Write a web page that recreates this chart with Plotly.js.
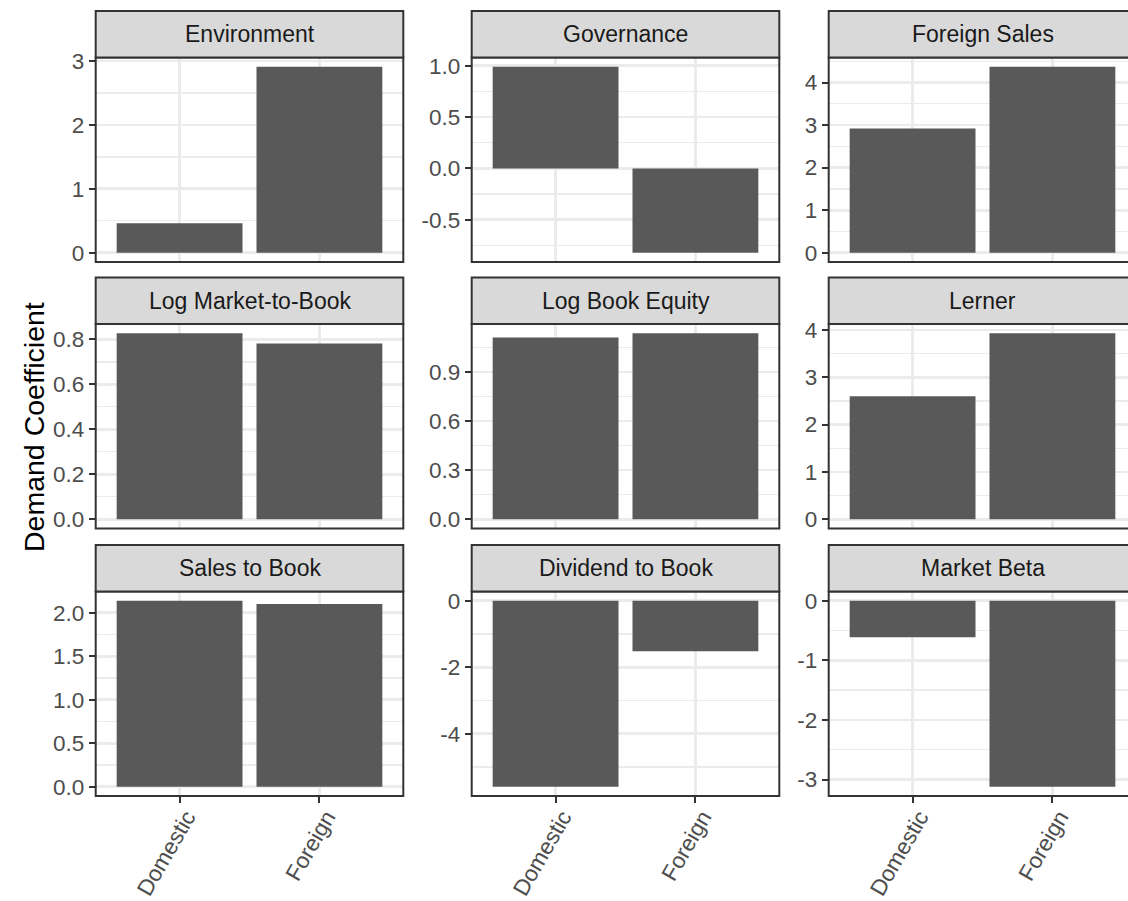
<!DOCTYPE html>
<html>
<head>
<meta charset="utf-8">
<script src="https://cdn.plot.ly/plotly-3.0.1.min.js"></script>
<style>
html, body { margin: 0; padding: 0; overflow: hidden; background: #ffffff; }
#chart { width: 1140px; height: 901px; }
</style>
</head>
<body>
<div id="chart"></div>
<script>
// ---- data ----
const categories = ["Domestic", "Foreign"];
const panelTitles = ["Environment", "Governance", "Foreign Sales",
                     "Log Market-to-Book", "Log Book Equity", "Lerner",
                     "Sales to Book", "Dividend to Book", "Market Beta"];
const environment     = [0.46, 2.91];
const governance      = [0.99, -0.82];
const foreignSales    = [2.92, 4.37];
const logMarketToBook = [0.827, 0.782];
const logBookEquity   = [1.111, 1.136];
const lerner          = [2.60, 3.93];
const salesToBook     = [2.137, 2.10];
const dividendToBook  = [-5.59, -1.52];
const marketBeta      = [-0.61, -3.12];

const tickValsEnvironment = [0, 1, 2, 3];
const tickTextEnvironment = ["0", "1", "2", "3"];
const tickValsGovernance  = [-0.5, 0, 0.5, 1];
const tickTextGovernance  = ["-0.5", "0.0", "0.5", "1.0"];
const tickValsForeignSales = [0, 1, 2, 3, 4];
const tickTextForeignSales = ["0", "1", "2", "3", "4"];
const tickValsLogMtB = [0, 0.2, 0.4, 0.6, 0.8];
const tickTextLogMtB = ["0.0", "0.2", "0.4", "0.6", "0.8"];
const tickValsLogBE  = [0, 0.3, 0.6, 0.9];
const tickTextLogBE  = ["0.0", "0.3", "0.6", "0.9"];
const tickValsLerner = [0, 1, 2, 3, 4];
const tickTextLerner = ["0", "1", "2", "3", "4"];
const tickValsSalesToBook = [0, 0.5, 1, 1.5, 2];
const tickTextSalesToBook = ["0.0", "0.5", "1.0", "1.5", "2.0"];
const tickValsDividend = [-4, -2, 0];
const tickTextDividend = ["-4", "-2", "0"];
const tickValsBeta = [-3, -2, -1, 0];
const tickTextBeta = ["-3", "-2", "-1", "0"];

const panelValues = [environment, governance, foreignSales,
                     logMarketToBook, logBookEquity, lerner,
                     salesToBook, dividendToBook, marketBeta];
const panelTickVals = [tickValsEnvironment, tickValsGovernance, tickValsForeignSales,
                       tickValsLogMtB, tickValsLogBE, tickValsLerner,
                       tickValsSalesToBook, tickValsDividend, tickValsBeta];
const panelTickText = [tickTextEnvironment, tickTextGovernance, tickTextForeignSales,
                       tickTextLogMtB, tickTextLogBE, tickTextLerner,
                       tickTextSalesToBook, tickTextDividend, tickTextBeta];

// ---- layout geometry (pixels) ----
const W = 1140, H = 901;
const colX = [[95.7, 403.3], [471.7, 779.3], [828.7, 1136.3]];
const rowStripTop = [11, 277.5, 545];
const rowPlot = [[57.5, 262], [324, 528.5], [591.5, 796]];

const FONT = "Liberation Sans, Arial, sans-serif";
const BORDER = "#333333";
const GRID = "#EBEBEB";

const traces = [];
const layout = {
  width: W, height: H,
  margin: {l: 0, r: 0, t: 0, b: 0},
  paper_bgcolor: "#ffffff",
  plot_bgcolor: "#ffffff",
  showlegend: false,
  font: {family: FONT, size: 22, color: "#4D4D4D"},
  shapes: [],
  annotations: []
};

function minorVals(ticks) {
  const step = ticks[1] - ticks[0];
  const out = [];
  for (let i = -1; i < ticks.length; i++) {
    out.push(ticks[0] + (i + 0.5) * step);
  }
  return out;
}

for (let i = 0; i < 9; i++) {
  const r = Math.floor(i / 3), c = i % 3;
  const sfx = i === 0 ? "" : String(i + 1);
  const vals = panelValues[i];
  traces.push({
    type: "bar",
    x: categories,
    y: vals,
    width: 0.9,
    marker: {color: "#595959", line: {width: 0}},
    xaxis: "x" + sfx,
    yaxis: "y" + sfx,
    hoverinfo: "skip"
  });
  const lo = Math.min(0, ...vals), hi = Math.max(0, ...vals);
  const pad = 0.05 * (hi - lo);
  const xd = [colX[c][0] / W, colX[c][1] / W];
  const yd = [1 - rowPlot[r][1] / H, 1 - rowPlot[r][0] / H];
  const bottomRow = r === 2;
  layout["xaxis" + sfx] = {
    domain: xd,
    anchor: "y" + sfx,
    type: "category",
    categoryorder: "array",
    categoryarray: categories,
    range: [-0.6, 1.6],
    showgrid: true,
    gridcolor: GRID,
    gridwidth: 2.7,
    zeroline: false,
    showline: false,
    ticks: bottomRow ? "outside" : "",
    ticklen: 6,
    tickwidth: 2,
    tickcolor: BORDER,
    showticklabels: bottomRow,
    tickangle: -60,
    ticklabelstandoff: -8,
    ticklabelshift: 7,
    tickfont: {family: FONT, size: 22.5, color: "#4D4D4D"},
    fixedrange: true
  };
  layout["yaxis" + sfx] = {
    domain: yd,
    anchor: "x" + sfx,
    range: [lo - pad, hi + pad],
    tickmode: "array",
    tickvals: panelTickVals[i],
    ticktext: panelTickText[i],
    showgrid: true,
    gridcolor: GRID,
    gridwidth: 2.7,
    minor: {tickmode: "array", tickvals: minorVals(panelTickVals[i]), showgrid: true,
            gridcolor: GRID, gridwidth: 1.35, ticks: ""},
    zeroline: false,
    showline: false,
    ticks: "outside",
    ticklen: 6,
    tickwidth: 2,
    tickcolor: BORDER,
    tickfont: {family: FONT, size: 22.5, color: "#4D4D4D"},
    fixedrange: true
  };
  // panel border
  layout.shapes.push({
    type: "rect", xref: "paper", yref: "paper", layer: "above",
    x0: xd[0], x1: xd[1], y0: yd[0], y1: yd[1],
    line: {color: BORDER, width: 2}, fillcolor: "rgba(0,0,0,0)"
  });
  // strip
  const sTop = 1 - rowStripTop[r] / H;
  layout.shapes.push({
    type: "rect", xref: "paper", yref: "paper", layer: "above",
    x0: xd[0], x1: xd[1], y0: yd[1], y1: sTop,
    line: {color: BORDER, width: 2}, fillcolor: "#D9D9D9"
  });
  layout.annotations.push({
    xref: "paper", yref: "paper",
    x: (xd[0] + xd[1]) / 2, y: (yd[1] + sTop) / 2,
    xanchor: "center", yanchor: "middle",
    text: panelTitles[i], showarrow: false,
    font: {family: FONT, size: 23, color: "#1A1A1A"}
  });
}

layout.annotations.push({
  xref: "paper", yref: "paper",
  x: 34 / W, y: 1 - 427 / H,
  xanchor: "center", yanchor: "middle",
  text: "Demand Coefficient", textangle: -90, showarrow: false,
  font: {family: FONT, size: 28.5, color: "#000000"}
});

Plotly.newPlot("chart", traces, layout, {staticPlot: true, displayModeBar: false});
</script>
</body>
</html>
